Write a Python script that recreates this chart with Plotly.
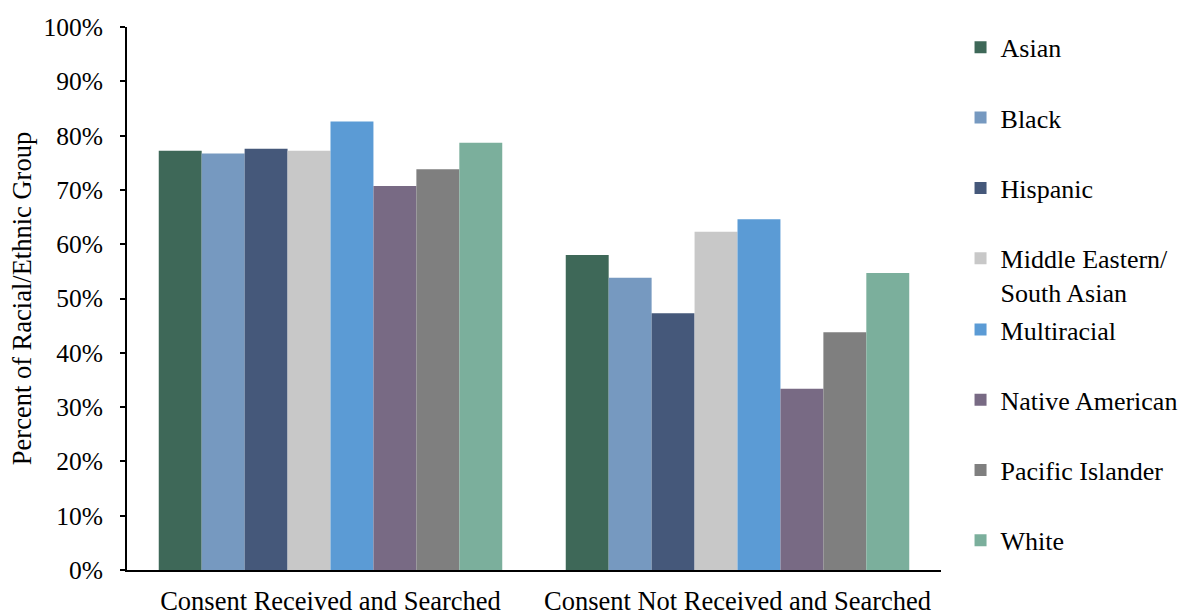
import plotly.graph_objects as go

categories = ["Consent Received and Searched", "Consent Not Received and Searched"]
groups = ["Asian", "Black", "Hispanic", "Middle Eastern/<br>South Asian",
          "Multiracial", "Native American", "Pacific Islander", "White"]
received = [0.772, 0.767, 0.776, 0.772, 0.826, 0.707, 0.738, 0.787]
not_received = [0.580, 0.538, 0.473, 0.623, 0.646, 0.334, 0.438, 0.547]
colors = ["#3E6858", "#7699C0", "#45587A", "#C8C8C8",
          "#5B9BD5", "#786A84", "#7F7F7F", "#7BAF9C"]

FONT = "Liberation Serif"

fig = go.Figure()
for i, g in enumerate(groups):
    fig.add_trace(go.Bar(
        x=categories, y=[received[i], not_received[i]], name=g,
        marker=dict(color=colors[i], line=dict(width=0)),
        legend="legend" if i < 4 else "legend2",
        legendgroup=f"g{i}",
    ))

legend_common = dict(
    font=dict(family=FONT, size=26, color="black"),
    bgcolor="rgba(0,0,0,0)", valign="top",
    tracegroupgap=33.5, xanchor="left", yanchor="top",
    traceorder="grouped",
)

fig.update_layout(
    width=1181, height=612,
    margin=dict(l=127, r=240, t=27, b=42, autoexpand=False),
    paper_bgcolor="white", plot_bgcolor="white",
    barmode="group", bargap=0.156, bargroupgap=0,
    font=dict(family=FONT, size=26, color="black"),
    legend=dict(x=1.024, y=1.0057, **legend_common),
    legend2=dict(x=1.024, y=0.4862, **legend_common),
    xaxis=dict(
        showline=True, linecolor="black", linewidth=2,
        ticks="", showgrid=False, tickfont=dict(family=FONT, size=26.5),
        ticklabelstandoff=6, automargin=False,
    ),
    yaxis=dict(
        range=[0, 1], dtick=0.1, tickformat=".0%",
        showline=True, linecolor="black", linewidth=2,
        ticks="outside", ticklen=5, tickwidth=2, tickcolor="black",
        showgrid=False, zeroline=False,
        tickfont=dict(family=FONT, size=25.5),
        ticklabelstandoff=12, automargin=False,
        title=dict(text="Percent of Racial/Ethnic Group",
                   font=dict(family=FONT, size=26.5), standoff=4),
    ),
    showlegend=True,
)

fig.write_html("out.html", config={"displayModeBar": False},
               post_script="document.body.style.margin='0px';")
